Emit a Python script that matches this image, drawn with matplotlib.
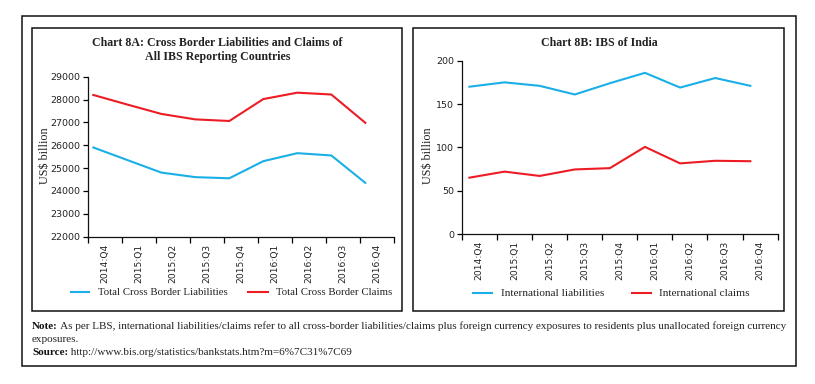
import matplotlib
matplotlib.use("Agg")
import matplotlib.pyplot as plt
from matplotlib.lines import Line2D
from matplotlib.patches import Rectangle

# ---------------- data ----------------
quarters = ["2014:Q4", "2015:Q1", "2015:Q2", "2015:Q3", "2015:Q4",
            "2016:Q1", "2016:Q2", "2016:Q3", "2016:Q4"]
all_liabilities = [25900, 25350, 24800, 24600, 24550, 25300, 25650, 25550, 24350]
all_claims = [28200, 27780, 27370, 27130, 27060, 28020, 28300, 28220, 26980]
india_liabilities = [170, 175, 171, 161, 174, 186, 169, 180, 171]
india_claims = [65, 72, 67, 74.5, 76, 100.5, 81.5, 84.5, 84]
yticks_a = [22000, 23000, 24000, 25000, 26000, 27000, 28000, 29000]
yticks_b = [0, 50, 100, 150, 200]

BLUE = "#1AAFE6"
RED = "#ED1C24"
W, H = 815, 384
SERIF = "Liberation Serif"
SANS = "DejaVu Sans"

fig = plt.figure(figsize=(W / 100, H / 100), dpi=100)


def fx(px):
    return px / W


def fy(py):
    return 1 - py / H


renderer = fig.canvas.get_renderer()


def fit(t, target_px):
    bb = t.get_window_extent(renderer)
    t.set_fontsize(t.get_fontsize() * target_px / bb.width)
    return t


def rect(x0, y0, x1, y1, lw=1.1):
    fig.add_artist(Rectangle((fx(x0), fy(y1)), fx(x1) - fx(x0), fy(y0) - fy(y1),
                             transform=fig.transFigure, fill=False,
                             edgecolor="#111111", linewidth=lw))


# frames
rect(21.7, 16, 795.5, 366)
rect(31.7, 28.3, 401.7, 311.3)
rect(413.3, 28.3, 784.3, 311.3)


def make_axes(px_l, px_r, py_t, py_b, ymin, ymax, yt, s1, s2, off):
    ax = fig.add_axes([fx(px_l), fy(py_b), fx(px_r) - fx(px_l), fy(py_t) - fy(py_b)])
    n = len(quarters)
    xs = [i + off for i in range(n)]
    ax.plot(xs, s1, color=BLUE, lw=1.5, solid_joinstyle="round")
    ax.plot(xs, s2, color=RED, lw=1.5, solid_joinstyle="round")
    ax.set_xlim(0, n)
    ax.set_ylim(ymin, ymax)
    ax.set_yticks(yt)
    ax.set_yticklabels([str(v) for v in yt], fontsize=6.8, family=SANS, color="#222222")
    ax.set_xticks(range(n + 1))
    ax.set_xticklabels([])
    ax.set_xticks([i + 0.5 for i in range(n)], minor=True)
    ax.set_xticklabels(quarters, minor=True, rotation=90, fontsize=6.6,
                       family=SANS, color="#222222", va="top", ha="center")
    ax.tick_params(axis="x", which="major", direction="out", length=4, width=0.9)
    ax.tick_params(axis="x", which="minor", length=0, pad=5)
    ax.tick_params(axis="y", direction="out", length=3.5, width=0.9, pad=2)
    for s in ["top", "right"]:
        ax.spines[s].set_visible(False)
    for s in ["left", "bottom"]:
        ax.spines[s].set_linewidth(0.9)
        ax.spines[s].set_color("#111111")
    ax.patch.set_alpha(0)
    return ax


axA = make_axes(87.7, 393.7, 76.7, 236.5, 22000, 29000, yticks_a,
                all_liabilities, all_claims, 0.165)
axB = make_axes(461.7, 777.7, 60.7, 234.0, 0, 200, yticks_b,
                india_liabilities, india_claims, 0.22)

# titles
t = fig.text(fx(217.5), fy(42.7), "Chart 8A: Cross Border Liabilities and Claims of",
             ha="center", va="center", family=SERIF, weight="bold", fontsize=8, color="#222222")
fit(t, 249)
fs_title = t.get_fontsize()
fig.text(fx(217.5), fy(56.7), "All IBS Reporting Countries", ha="center", va="center",
         family=SERIF, weight="bold", fontsize=fs_title, color="#222222")
fig.text(fx(599), fy(42.7), "Chart 8B: IBS of India", ha="center", va="center",
         family=SERIF, weight="bold", fontsize=fs_title, color="#222222")

# y labels
fig.text(fx(45), fy(155.7), "US$ billion", rotation=90, ha="center", va="center",
         family=SERIF, fontsize=8.7, color="#222222")
fig.text(fx(428.3), fy(156), "US$ billion", rotation=90, ha="center", va="center",
         family=SERIF, fontsize=8.7, color="#222222")


# legends
def legend_item(x0, x1, xt, y, color, label, width):
    fig.add_artist(Line2D([fx(x0), fx(x1)], [fy(y), fy(y)], transform=fig.transFigure,
                          color=color, lw=1.5))
    tt = fig.text(fx(xt), fy(y), label, ha="left", va="center", family=SERIF,
                  fontsize=7.5, color="#222222")
    fit(tt, width)


legend_item(70.7, 89.3, 98, 292.3, BLUE, "Total Cross Border Liabilities", 127)
legend_item(248, 268, 276, 292.3, RED, "Total Cross Border Claims", 114)
legend_item(473.3, 491.7, 500.7, 293.3, BLUE, "International liabilities", 101.6)
legend_item(631.7, 650.7, 659.3, 293.3, RED, "International claims", 89)

# notes
note_rest = (" As per LBS, international liabilities/claims refer to all cross-border "
             "liabilities/claims plus foreign currency exposures to residents plus "
             "unallocated foreign currency")
n1 = fig.text(fx(32), fy(329.3), "Note:", ha="left", va="baseline", family=SERIF,
              weight="bold", fontsize=7.3, color="#111111")
n2 = fig.text(fx(32), fy(329.3), note_rest, ha="left", va="baseline", family=SERIF,
              fontsize=7.3, color="#222222")
w1 = n1.get_window_extent(renderer).width
w2 = n2.get_window_extent(renderer).width
scale = (790 - 32) / (w1 + w2)
n1.set_fontsize(7.3 * scale)
n2.set_fontsize(7.3 * scale)
w1 = n1.get_window_extent(renderer).width
n2.set_x(fx(32 + w1))
fs_note = 7.3 * scale
fig.text(fx(32), fy(342.3), "exposures.", ha="left", va="baseline", family=SERIF,
         fontsize=fs_note, color="#222222")
s1 = fig.text(fx(32), fy(355), "Source:", ha="left", va="baseline", family=SERIF,
              weight="bold", fontsize=fs_note, color="#111111")
ws = s1.get_window_extent(renderer).width
fig.text(fx(32 + ws), fy(355), " http://www.bis.org/statistics/bankstats.htm?m=6%7C31%7C69",
         ha="left", va="baseline", family=SERIF, fontsize=fs_note, color="#222222")

fig.savefig("out.png", dpi=100)
